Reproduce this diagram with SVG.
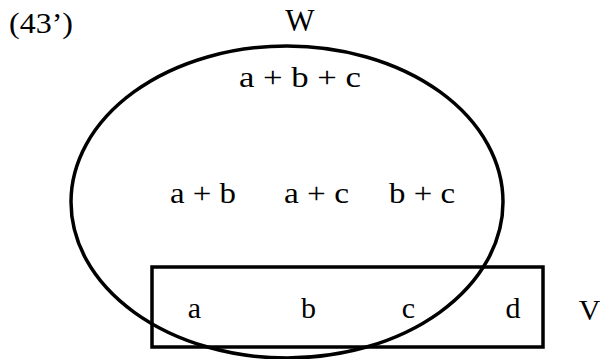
<svg xmlns="http://www.w3.org/2000/svg" width="600" height="359" viewBox="0 0 600 359">
<style>
  .t { font-family: "Liberation Serif", "Times New Roman", serif; font-size: 30px; fill: #000; }
  .shape { fill: none; stroke: #000; stroke-width: 3.5; }
</style>
<rect width="600" height="359" fill="#fff"/>
<text class="t" x="9" y="33" textLength="64" lengthAdjust="spacingAndGlyphs">(43’)</text>
<g id="W">
  <ellipse class="shape" cx="287" cy="202" rx="216" ry="156"/>
  <text class="t" x="300" y="31" text-anchor="middle" style="font-size:31px">W</text>
  <text class="t" x="239" y="87" textLength="122" lengthAdjust="spacingAndGlyphs">a +  b + c</text>
  <text class="t" x="170" y="203" textLength="66" lengthAdjust="spacingAndGlyphs">a + b</text>
  <text class="t" x="284" y="203" textLength="65" lengthAdjust="spacingAndGlyphs">a + c</text>
  <text class="t" x="389" y="203" textLength="66" lengthAdjust="spacingAndGlyphs">b + c</text>
</g>
<g id="V">
  <rect class="shape" x="152" y="267" width="391" height="80"/>
  <text class="t" x="194.5" y="318" text-anchor="middle">a</text>
  <text class="t" x="308.5" y="318" text-anchor="middle">b</text>
  <text class="t" x="408.5" y="318" text-anchor="middle">c</text>
  <text class="t" x="513" y="318" text-anchor="middle">d</text>
  <text class="t" x="589.5" y="320" text-anchor="middle">V</text>
</g>
<g id="connectors"></g>
</svg>
